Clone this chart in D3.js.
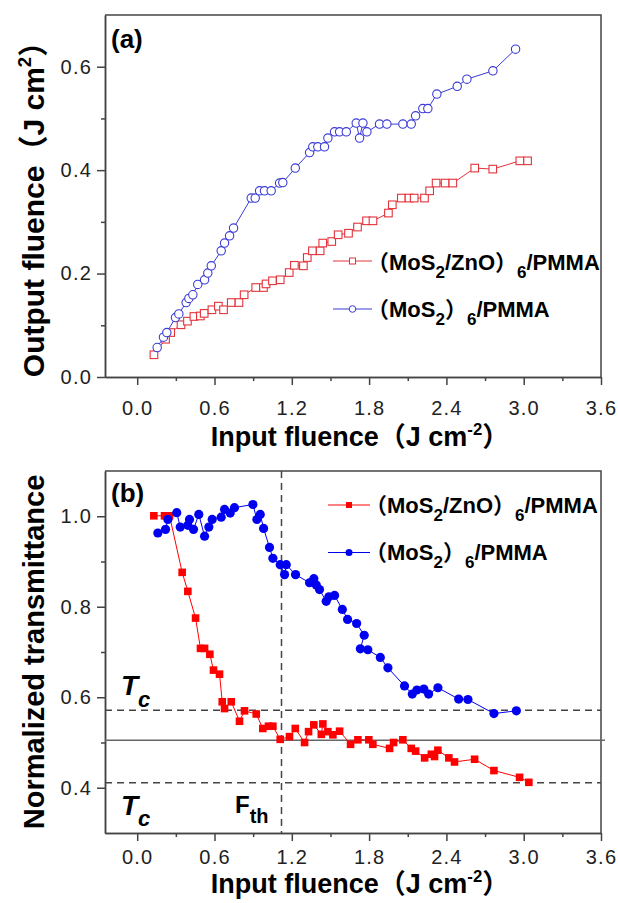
<!doctype html>
<html>
<head>
    <meta charset="UTF-8">
    <title>Optical limiting</title>
    <script src="https://d3js.org/d3.v7.min.js"></script>
    <style>
        body { margin: 0; background: #fff; }
        text { font-family: "Liberation Sans", Arial, "Noto Sans CJK SC", sans-serif; }
    </style>
</head>
<body>
    <svg id="fig" width="618" height="903"></svg>

    <script>
        // (a) output vs input fluence
        var inA_ZnO = [0.13,0.22,0.26,0.34,0.39,0.44,0.49,0.52,0.58,0.63,0.67,0.73,0.79,0.83,0.92,0.98,1.00,1.05,1.11,1.18,1.22,1.29,1.32,1.36,1.42,1.44,1.51,1.56,1.64,1.71,1.78,1.83,1.95,1.98,2.05,2.11,2.15,2.23,2.27,2.32,2.39,2.45,2.62,2.76,2.97,3.03];
        var outA_ZnO = [0.043,0.073,0.086,0.101,0.108,0.117,0.118,0.123,0.130,0.137,0.130,0.144,0.144,0.159,0.173,0.173,0.180,0.186,0.188,0.202,0.216,0.215,0.231,0.244,0.244,0.259,0.262,0.275,0.278,0.290,0.302,0.302,0.317,0.333,0.346,0.346,0.346,0.346,0.360,0.375,0.375,0.375,0.404,0.402,0.418,0.418];
        var inA_MoS2 = [0.155,0.204,0.230,0.297,0.323,0.380,0.401,0.432,0.470,0.523,0.548,0.575,0.652,0.678,0.717,0.748,0.885,0.916,0.950,0.988,1.040,1.105,1.130,1.227,1.338,1.363,1.402,1.454,1.480,1.532,1.571,1.623,1.700,1.726,1.752,1.783,1.881,1.938,2.062,2.127,2.161,2.217,2.256,2.326,2.484,2.559,2.761,2.937];
        var outA_MoS2 = [0.057,0.077,0.086,0.115,0.122,0.144,0.152,0.159,0.179,0.188,0.201,0.215,0.244,0.259,0.273,0.288,0.346,0.346,0.360,0.360,0.360,0.375,0.376,0.404,0.434,0.445,0.445,0.445,0.462,0.474,0.474,0.474,0.491,0.462,0.491,0.474,0.489,0.489,0.489,0.489,0.505,0.519,0.519,0.547,0.562,0.576,0.592,0.634];

        // (b) normalized transmittance
        var inB_ZnO = [0.129,0.212,0.251,0.349,0.393,0.453,0.491,0.523,0.564,0.592,0.639,0.660,0.678,0.730,0.794,0.833,0.924,0.975,1.019,1.053,1.110,1.182,1.227,1.299,1.330,1.371,1.429,1.441,1.480,1.519,1.571,1.656,1.713,1.798,1.829,1.959,1.990,2.062,2.127,2.161,2.231,2.283,2.308,2.334,2.419,2.463,2.619,2.769,2.968,3.040];
        var tB_ZnO = [1.001,1.001,1.001,0.876,0.834,0.775,0.708,0.708,0.695,0.660,0.651,0.590,0.575,0.590,0.547,0.570,0.563,0.531,0.536,0.536,0.507,0.513,0.531,0.500,0.524,0.539,0.518,0.541,0.524,0.517,0.525,0.496,0.506,0.506,0.496,0.487,0.500,0.506,0.487,0.481,0.466,0.474,0.469,0.483,0.466,0.457,0.463,0.438,0.423,0.412];
        var inB_MoS2 = [0.160,0.220,0.238,0.307,0.334,0.393,0.406,0.437,0.478,0.523,0.556,0.582,0.652,0.678,0.722,0.755,0.898,0.929,0.955,0.981,1.027,1.053,1.110,1.144,1.157,1.229,1.338,1.371,1.390,1.415,1.467,1.488,1.532,1.592,1.633,1.703,1.762,1.732,1.790,1.887,1.946,2.075,2.135,2.171,2.225,2.262,2.334,2.495,2.567,2.769,2.943];
        var tB_MoS2 = [0.963,0.971,0.993,1.008,0.976,0.980,0.993,0.971,1.004,0.956,0.976,0.993,0.998,1.015,1.007,1.019,1.026,0.993,1.004,0.973,0.931,0.907,0.893,0.871,0.893,0.871,0.853,0.862,0.848,0.838,0.812,0.822,0.825,0.794,0.772,0.763,0.737,0.707,0.705,0.688,0.665,0.625,0.607,0.616,0.618,0.607,0.621,0.596,0.595,0.564,0.570];

        var tcLevels = [0.571, 0.411];
        var halfLevel = 0.505;
        var fth = 1.12;

        var xTicks = [0, 0.6, 1.2, 1.8, 2.4, 3.0, 3.6];
        var xMinor = [0.3, 0.9, 1.5, 2.1, 2.7, 3.3];
        var yTicksA = [0, 0.2, 0.4, 0.6];
        var yMinorA = [0.1, 0.3, 0.5];
        var yTicksB = [0.4, 0.6, 0.8, 1.0];
        var yMinorB = [0.5, 0.7, 0.9];

        var nameZnO = ["\uff08MoS", "2", "/ZnO\uff09", "6", "/PMMA"];
        var nameMoS2 = ["\uff08MoS", "2", "\uff09", "6", "/PMMA"];

        var svg = d3.select("#fig");
        var L = 105, R = 601;
        var fmt = d3.format(".1f");

        var x = d3.scaleLinear().domain([-0.25, 3.6]).range([L, R]);
        var yA = d3.scaleLinear().domain([0, 0.7]).range([377, 15]);
        var yB = d3.scaleLinear().domain([0.3, 1.1]).range([833, 471]);

        var redA = "#e3343c", blueA = "#3a3ad6";
        var redB = "#ff0000", blueB = "#0000f0";

        function zip(xs, ys) {
            return xs.map(function (v, i) { return [v, ys[i]]; });
        }

        function line(y) {
            return d3.line().x(function (d) { return x(d[0]); }).y(function (d) { return y(d[1]); });
        }

        function drawFrame(y, top, bottom, yTicks, yMinor, labelPad) {
            var g = svg.append("g");
            // bottom axis
            g.append("g").attr("transform", "translate(0," + bottom + ")")
                .call(d3.axisBottom(x).tickValues(xTicks).tickFormat(fmt).tickSize(8).tickSizeOuter(0).tickPadding(labelPad));
            g.append("g").attr("transform", "translate(0," + bottom + ")")
                .call(d3.axisBottom(x).tickValues(xMinor).tickFormat("").tickSize(4).tickSizeOuter(0));
            // left axis
            g.append("g").attr("transform", "translate(" + L + ",0)")
                .call(d3.axisLeft(y).tickValues(yTicks).tickFormat(fmt).tickSize(8).tickSizeOuter(0).tickPadding(5));
            g.append("g").attr("transform", "translate(" + L + ",0)")
                .call(d3.axisLeft(y).tickValues(yMinor).tickFormat("").tickSize(4).tickSizeOuter(0));
            g.selectAll("path.domain").attr("stroke", "#444").attr("stroke-width", 1.5);
            g.selectAll(".tick line").attr("stroke", "#444").attr("stroke-width", 1.5);
            g.selectAll(".tick text").attr("font-size", 20).attr("fill", "#222")
                .style("letter-spacing", "1.2px");
            // top & right border
            g.append("path")
                .attr("d", "M" + L + "," + top + "H" + R + "V" + bottom)
                .attr("fill", "none").attr("stroke", "#444").attr("stroke-width", 1.5);
        }

        // text with alternating normal / subscript parts
        function subText(px, py, parts, size, subSize, shift) {
            var t = svg.append("text").attr("x", px).attr("y", py).attr("font-weight", "bold");
            parts.forEach(function (p, i) {
                var sub = i % 2 === 1;
                t.append("tspan")
                    .attr("font-size", sub ? subSize : size)
                    .attr("dy", sub ? shift : (i > 0 ? -shift : 0))
                    .text(p);
            });
            return t;
        }

        function title(txt, sup, cx, cy, size, rotate) {
            var t = svg.append("text")
                .attr("font-weight", "bold").attr("font-size", size)
                .attr("text-anchor", "middle")
                .attr("transform", "translate(" + cx + "," + cy + ")" + (rotate ? " rotate(-90)" : ""));
            if (sup === null) {
                t.text(txt);
                return;
            }
            t.append("tspan").text(txt + "\uff08J cm");
            t.append("tspan").attr("font-size", size * 0.62).attr("dy", -size * 0.42).text(sup);
            t.append("tspan").attr("dy", size * 0.42).text("\uff09");
        }

        // ---------- panel (a) ----------
        drawFrame(yA, 15, 377, yTicksA, yMinorA, 16);

        var zA = zip(inA_ZnO, outA_ZnO), mA = zip(inA_MoS2, outA_MoS2);

        svg.append("path").datum(zA).attr("d", line(yA)).attr("fill", "none").attr("stroke", redA).attr("stroke-width", 1);
        svg.append("path").datum(mA).attr("d", line(yA)).attr("fill", "none").attr("stroke", blueA).attr("stroke-width", 1);

        svg.selectAll("rect.sqA").data(zA).enter().append("rect")
            .attr("class", "sqA")
            .attr("x", function (d) { return x(d[0]) - 3.8; })
            .attr("y", function (d) { return yA(d[1]) - 3.8; })
            .attr("width", 7.6).attr("height", 7.6)
            .attr("fill", "white").attr("stroke", redA).attr("stroke-width", 1.1);
        svg.selectAll("circle.ciA").data(mA).enter().append("circle")
            .attr("class", "ciA")
            .attr("cx", function (d) { return x(d[0]); })
            .attr("cy", function (d) { return yA(d[1]); })
            .attr("r", 4.2)
            .attr("fill", "white").attr("stroke", blueA).attr("stroke-width", 1.1);

        // legend (a)
        svg.append("line").attr("x1", 333).attr("x2", 372).attr("y1", 261).attr("y2", 261).attr("stroke", redA);
        svg.append("rect").attr("x", 349.5).attr("y", 258).attr("width", 6).attr("height", 6)
            .attr("fill", "white").attr("stroke", redA);
        svg.append("line").attr("x1", 333).attr("x2", 372).attr("y1", 309).attr("y2", 309).attr("stroke", blueA);
        svg.append("circle").attr("cx", 352.5).attr("cy", 309).attr("r", 3.3)
            .attr("fill", "white").attr("stroke", blueA);

        subText(367, 270, nameZnO, 22, 17, 8);
        subText(367, 317, nameMoS2, 22, 17, 8);

        svg.append("text").attr("x", 111).attr("y", 48).attr("font-weight", "bold").attr("font-size", 26).text("(a)");

        title("Output fluence", "2", 44, 202, 30, true);
        title("Input fluence", "-2", 360, 446, 27, false);

        // ---------- panel (b) ----------
        drawFrame(yB, 471, 833, yTicksB, yMinorB, 9);

        // reference lines
        tcLevels.forEach(function (v) {
            svg.append("line").attr("x1", L).attr("x2", R).attr("y1", yB(v)).attr("y2", yB(v))
                .attr("stroke", "#444").attr("stroke-width", 1.5).attr("stroke-dasharray", "7,5");
        });
        svg.append("line").attr("x1", L).attr("x2", R + 4).attr("y1", yB(halfLevel)).attr("y2", yB(halfLevel))
            .attr("stroke", "#666").attr("stroke-width", 1.5);
        svg.append("line").attr("x1", x(fth)).attr("x2", x(fth)).attr("y1", 471).attr("y2", 833)
            .attr("stroke", "#444").attr("stroke-width", 1.5).attr("stroke-dasharray", "7,5");

        var zB = zip(inB_ZnO, tB_ZnO), mB = zip(inB_MoS2, tB_MoS2);

        svg.append("path").datum(zB).attr("d", line(yB)).attr("fill", "none").attr("stroke", redB).attr("stroke-width", 1);
        svg.append("path").datum(mB).attr("d", line(yB)).attr("fill", "none").attr("stroke", blueB).attr("stroke-width", 1);

        svg.selectAll("rect.sqB").data(zB).enter().append("rect")
            .attr("class", "sqB")
            .attr("x", function (d) { return x(d[0]) - 3.8; })
            .attr("y", function (d) { return yB(d[1]) - 3.8; })
            .attr("width", 7.6).attr("height", 7.6)
            .attr("fill", redB);
        svg.selectAll("circle.ciB").data(mB).enter().append("circle")
            .attr("class", "ciB")
            .attr("cx", function (d) { return x(d[0]); })
            .attr("cy", function (d) { return yB(d[1]); })
            .attr("r", 4.6)
            .attr("fill", blueB);

        // legend (b)
        svg.append("line").attr("x1", 328).attr("x2", 370).attr("y1", 505).attr("y2", 505).attr("stroke", redB);
        svg.append("rect").attr("x", 346).attr("y", 502).attr("width", 6).attr("height", 6).attr("fill", redB);
        svg.append("line").attr("x1", 328).attr("x2", 370).attr("y1", 552.5).attr("y2", 552.5).attr("stroke", blueB);
        svg.append("circle").attr("cx", 349).attr("cy", 552.5).attr("r", 3.5).attr("fill", blueB);

        subText(365, 513, nameZnO, 22, 17, 8);
        subText(365, 560, nameMoS2, 22, 17, 8);

        svg.append("text").attr("x", 111).attr("y", 502).attr("font-weight", "bold").attr("font-size", 26).text("(b)");

        // Tc and Fth labels
        [[695, 707], [815, 826]].forEach(function (p) {
            var t = svg.append("text").attr("x", 121).attr("y", p[0])
                .attr("font-weight", "bold").attr("font-style", "italic");
            t.append("tspan").attr("font-size", 28).text("T");
            t.append("tspan").attr("font-size", 22).attr("dy", p[1] - p[0]).text("c");
        });
        var f = svg.append("text").attr("x", 235).attr("y", 813).attr("font-weight", "bold");
        f.append("tspan").attr("font-size", 24).text("F");
        f.append("tspan").attr("font-size", 20).attr("dy", 10).text("th");

        title("Normalized transmittance", null, 44, 652, 29, true);
        title("Input fluence", "-2", 360, 893, 27, false);
    </script>
</body>
</html>
